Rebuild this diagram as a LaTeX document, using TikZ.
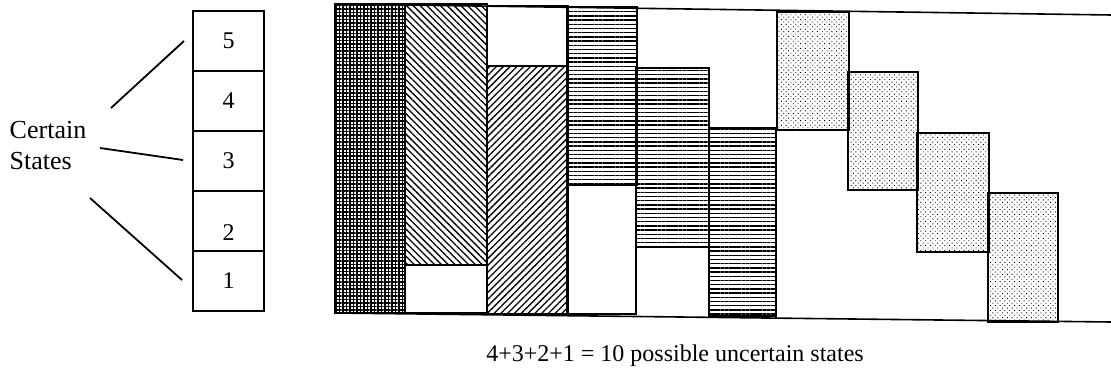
\documentclass[tikz,border=0pt]{standalone}
\usepackage{fontspec}
\setmainfont{Liberation Serif}
\usetikzlibrary{patterns.meta,positioning}

\tikzset{
    statebox/.style={draw, line width=0.75pt, minimum width=35.5pt, minimum height=30pt,
        inner sep=0pt, outer sep=0pt},
    cell/.style={draw, line width=0.8pt},
    gridfill/.style={pattern={Hatch[angle=0,distance=1.75pt,line width=0.6pt]}},
    nwfill/.style={pattern={Lines[angle=-45,distance=2.4pt,line width=0.65pt]}},
    nefill/.style={pattern={Lines[angle=45,distance=2.4pt,line width=0.65pt]}},
    hfill/.style={pattern={Lines[angle=0,distance=2.1pt,line width=0.7pt]}},
    dotfill/.style={pattern={Dots[angle=45,distance=1.7pt,radius=0.32pt]}}
}

\begin{document}
\begin{tikzpicture}[x=0.5pt, y=-0.5pt, font=\fontsize{12}{15}\selectfont]
    \useasboundingbox (0,0) rectangle (1111,373);

    % certain states
    \node[statebox] (s5) at (228.5,41) {5};
    \node[statebox, below=0pt of s5] (s4) {4};
    \node[statebox, below=0pt of s4] (s3) {3};
    \node[statebox, below=0pt of s3, label={[yshift=-6pt]center:2}] (s2) {};
    \node[statebox, below=0pt of s2] (s1) {1};

    \node[align=left, font=\fontsize{13}{15.5}\selectfont] (cs) at (48,146) {Certain\\States};
    \coordinate (p5) at (184,41);
    \coordinate (p3) at (183,160);
    \coordinate (p1) at (182,280);
    \coordinate (q5) at (111,108);
    \coordinate (q3) at (100,148);
    \coordinate (q1) at (90,198);
    \draw[line width=0.9pt] (q5) -- (p5);
    \draw[line width=0.9pt] (q3) -- (p3);
    \draw[line width=0.9pt] (q1) -- (p1);

    % uncertain states
    \draw[cell] (335,4) -- (1111,15);
    \draw[cell] (335,313) -- (1111,322);

    \draw[cell, gridfill] (335,4) rectangle (405,313);

    \draw[cell, nwfill] (405,4) rectangle (487,265);
    \draw[cell] (405,265) rectangle (487,313);
    \draw[cell] (487,6) rectangle (568,66);
    \draw[cell, nefill] (487,66) rectangle (568,314);

    \draw[cell, hfill] (567,7) rectangle (637,185);
    \draw[cell] (567,185) rectangle (636,314);
    \draw[cell, hfill] (636,68) rectangle (709,247);
    \draw[cell, hfill] (709,128) rectangle (776,316);

    \draw[cell, dotfill] (777,12) rectangle (849,130);
    \draw[cell] (776,130) -- (776,318);
    \draw[cell, dotfill] (848,72) rectangle (918,190);
    \draw[cell, dotfill] (917,133) rectangle (989,252);
    \draw[cell, dotfill] (988,193) rectangle (1058,322);

    \node (sum) at (675,356) {4+3+2+1 = 10 possible uncertain states};
\end{tikzpicture}
\end{document}
